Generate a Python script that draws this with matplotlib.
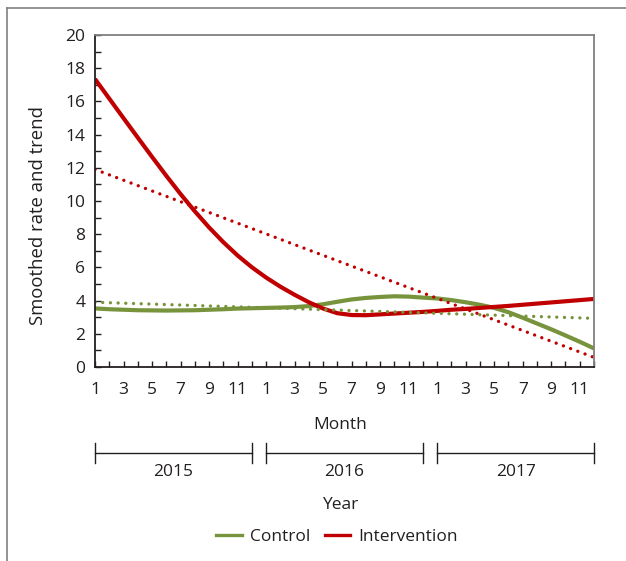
import numpy as np
import matplotlib.pyplot as plt
from matplotlib.lines import Line2D

plt.rcParams['font.family'] = ['Open Sans', 'DejaVu Sans']

# 36 months, Jan 2015 .. Dec 2017
months = np.arange(36)
month_labels = ['1', '', '3', '', '5', '', '7', '', '9', '', '11', ''] * 3
years = ['2015', '2016', '2017']

control_smooth = [3.53, 3.48, 3.45, 3.42, 3.41, 3.40, 3.41, 3.42, 3.45, 3.48, 3.52, 3.54,
                  3.56, 3.58, 3.61, 3.67, 3.78, 3.93, 4.07, 4.16, 4.22, 4.26, 4.24, 4.18,
                  4.13, 4.03, 3.90, 3.75, 3.56, 3.30, 2.97, 2.62, 2.27, 1.90, 1.52, 1.12]
interv_smooth = [17.35, 16.17, 14.99, 13.82, 12.66, 11.52, 10.42, 9.38, 8.41, 7.52, 6.72, 6.01,
                 5.39, 4.84, 4.35, 3.90, 3.52, 3.24, 3.13, 3.12, 3.17, 3.22, 3.27, 3.32,
                 3.38, 3.45, 3.50, 3.56, 3.62, 3.68, 3.75, 3.82, 3.89, 3.96, 4.03, 4.10]
# linear trends: value at first and last month
trend_months = [0, 35]
control_trend = [3.90, 2.93]
interv_trend = [11.90, 0.58]

green = '#77933C'
red = '#C00000'
txt = '#231F20'

W, H = 626, 561
fig = plt.figure(figsize=(W / 100, H / 100), dpi=100)
ax = fig.add_axes([95 / W, 1 - 367 / H, (594 - 95) / W, (367 - 35) / H])

ax.plot(months, control_smooth, color=green, lw=3.0, solid_capstyle='butt')
ax.plot(months, interv_smooth, color=red, lw=3.0, solid_capstyle='butt')
ax.plot(trend_months, control_trend, color=green, lw=2.4,
        linestyle=(0, (0.01, 2.3)), dash_capstyle='round')
ax.plot(trend_months, interv_trend, color=red, lw=2.4,
        linestyle=(0, (0.01, 2.3)), dash_capstyle='round')

ax.set_xlim(0, 35)
ax.set_ylim(0, 20)
ax.set_yticks(np.arange(0, 21, 2))
ax.set_yticks(np.arange(0, 21, 1), minor=True)
ax.set_xticks(months)
ax.set_xticklabels(month_labels)
ax.tick_params(axis='both', which='both', direction='in', length=4.5, width=1,
               colors='#231F20', labelsize=12.5, labelcolor=txt)
ax.tick_params(axis='x', pad=11)
ax.tick_params(axis='y', pad=7)

for s in ['left', 'bottom']:
    ax.spines[s].set_color('#231F20')
    ax.spines[s].set_linewidth(1.3)
for s in ['top', 'right']:
    ax.spines[s].set_color('#808080')
    ax.spines[s].set_linewidth(1.3)

fig.text(38 / W, 1 - 215 / H, 'Smoothed rate and trend', rotation=90,
         ha='center', va='center', fontsize=13.3, color=txt)
fig.text(340 / W, 1 - 425 / H, 'Month', ha='center', va='center', fontsize=12.5, color=txt)
fig.text(340 / W, 1 - 505 / H, 'Year', ha='center', va='center', fontsize=12.5, color=txt)

# year brackets under the month axis
trans = ax.get_xaxis_transform()
yb = (367 - 453) / (367 - 35)
ytk = 10 / (367 - 35)
ylab = (367 - 472) / (367 - 35)
for k, yr in enumerate(years):
    x0, x1 = 12 * k, 12 * k + 11
    ax.plot([x0, x1], [yb, yb], color='#231F20', lw=1, transform=trans, clip_on=False)
    for xx in (x0, x1):
        ax.plot([xx, xx], [yb - ytk, yb + ytk], color='#231F20', lw=1,
                transform=trans, clip_on=False)
    ax.text((x0 + x1) / 2, ylab, yr, transform=trans, ha='center', va='center',
            fontsize=12.5, color=txt)

handles = [Line2D([], [], color=green, lw=2.4), Line2D([], [], color=red, lw=2.4)]
fig.legend(handles, ['Control', 'Intervention'], loc='center',
           bbox_to_anchor=(337 / W, 1 - 537 / H), ncol=2, frameon=False,
           fontsize=12.5, handlelength=1.45, handletextpad=0.46, columnspacing=0.86,
           labelcolor=txt)

# frame lines around the figure (top and left)
fig.add_artist(Line2D([7 / W, 1], [1 - 8 / H, 1 - 8 / H], color='#808080', lw=1.2))
fig.add_artist(Line2D([7 / W, 7 / W], [0, 1 - 8 / H], color='#808080', lw=1.2))

fig.savefig('out.png', dpi=100)
